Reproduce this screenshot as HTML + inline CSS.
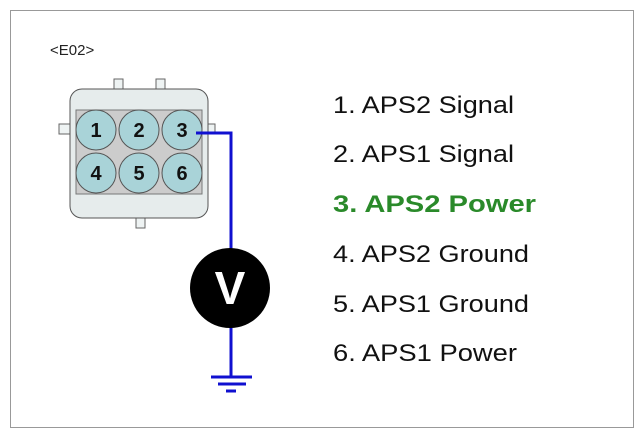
<!DOCTYPE html>
<html><head><style>body{margin:0;background:#fff}</style></head><body>
<svg width="644" height="438" xmlns="http://www.w3.org/2000/svg" font-family="Liberation Sans, Arial, sans-serif">
<rect x="0" y="0" width="644" height="438" fill="#fff"/>
<rect x="10.5" y="10.5" width="623" height="417" fill="none" stroke="#999" stroke-width="1"/>
<text x="50" y="55" font-size="15" fill="#222">&lt;E02&gt;</text>
<g stroke="#666" stroke-width="1" fill="#eef3f3">
<rect x="114" y="79" width="9" height="12"/>
<rect x="156" y="79" width="9" height="12"/>
<rect x="59" y="124" width="13" height="10"/>
<rect x="203" y="124" width="12" height="10"/>
<rect x="136" y="216" width="9" height="12"/>
<rect x="70" y="89" width="138" height="129" rx="12" fill="#e6ecec" stroke="#555"/>
</g>
<rect x="76" y="110" width="126" height="84" fill="#ccc" stroke="#777"/>
<g fill="#a9d3d8" stroke="#555" stroke-width="1">
<circle cx="96" cy="130" r="20"/><circle cx="139" cy="130" r="20"/><circle cx="182" cy="130" r="20"/>
<circle cx="96" cy="173" r="20"/><circle cx="139" cy="173" r="20"/><circle cx="182" cy="173" r="20"/>
</g>
<g font-size="20" font-weight="bold" fill="#111" text-anchor="middle">
<text x="96" y="137">1</text><text x="139" y="137">2</text><text x="182" y="137">3</text>
<text x="96" y="180">4</text><text x="139" y="180">5</text><text x="182" y="180">6</text>
</g>
<polyline points="196,133 231,133 231,378" fill="none" stroke="#1010d0" stroke-width="3"/>
<circle cx="230" cy="288" r="40" fill="#000"/>
<text x="230" y="304" font-size="46" font-weight="bold" fill="#fff" text-anchor="middle">V</text>
<g stroke="#1010d0" stroke-width="3">
<line x1="211" y1="377" x2="252" y2="377"/>
<line x1="218" y1="384" x2="246" y2="384"/>
<line x1="226" y1="391" x2="236" y2="391"/>
</g>
<g font-size="24" fill="#111" lengthAdjust="spacingAndGlyphs">
<text x="333" y="113" textLength="181" lengthAdjust="spacingAndGlyphs">1. APS2 Signal</text>
<text x="333" y="162" textLength="181" lengthAdjust="spacingAndGlyphs">2. APS1 Signal</text>
<text x="333" y="212" font-weight="bold" fill="#2a8a2a" textLength="203" lengthAdjust="spacingAndGlyphs">3. APS2 Power</text>
<text x="333" y="262" textLength="196" lengthAdjust="spacingAndGlyphs">4. APS2 Ground</text>
<text x="333" y="312" textLength="196" lengthAdjust="spacingAndGlyphs">5. APS1 Ground</text>
<text x="333" y="361" textLength="184" lengthAdjust="spacingAndGlyphs">6. APS1 Power</text>
</g>
</svg>
</body></html>
